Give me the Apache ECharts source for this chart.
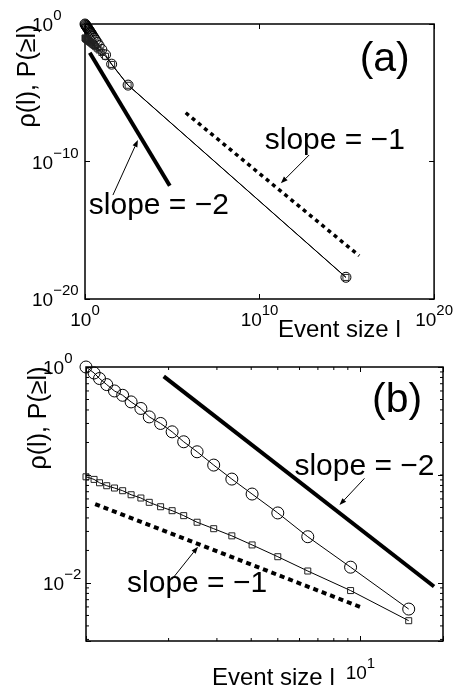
<!DOCTYPE html>
<html><head><meta charset="utf-8">
<script src="https://cdn.jsdelivr.net/npm/echarts@6.0.0/dist/echarts.min.js"></script>
<style>html,body{margin:0;padding:0;background:#fff}#c{width:456px;height:689px}</style>
</head><body><div id="c"></div>
<script>
// ---- data ----
const eventSizes = [1, 1.07, 1.12, 1.19, 1.27, 1.36, 1.46, 1.585, 1.70, 1.87, 2.06, 2.27, 2.54, 2.92, 3.40, 4.03, 5.0, 6.43, 9.21, 15.0, 33.6, 295, 8.9e14];
const rhoValues = [1, 0.880, 0.782, 0.687, 0.600, 0.547, 0.475, 0.413, 0.345, 0.300, 0.251, 0.203, 0.164, 0.1235, 0.0916, 0.0666, 0.0445, 0.0268, 0.0140, 0.00573, 0.0012, 3.6e-5, 3.8e-19];
const cumValues = [0.0962, 0.0910, 0.0847, 0.0795, 0.0757, 0.0715, 0.0656, 0.0612, 0.0558, 0.0508, 0.0467, 0.0420, 0.0365, 0.0318, 0.0273, 0.0225, 0.0175, 0.0129, 0.0085, 0.00447, 0.00115, 3.5e-5, 3.7e-19];
const zoomPointCount = 20; // panel (b) shows the first 20 event sizes

// reference slope lines
const slope2A_x = [1.88, 7.2e4],  slope2A_y = [8.1e-3, 1.7e-12];
const slope1A_x = [5.9e5, 5.1e15], slope1A_y = [3.5e-7, 1.4e-17];
const slope2B_x = [1.92, 18.55],  slope2B_y = [0.82, 0.00927];
const slope1B_x = [1.08, 10.24],  slope1B_y = [0.0538, 0.00585];

// tick labels (exponents of 10)
const tickExpXA = [0, 10, 20];
const tickExpYA = [0, -10, -20];
const tickExpXB = [1];
const tickExpYB = [0, -2];
const minorTicksXB = [2, 3, 4, 5, 6, 7, 8, 9];
const minorTicksYB = [0.9, 0.8, 0.7, 0.6, 0.5, 0.4, 0.3, 0.2, 0.1, 0.09, 0.08, 0.07, 0.06, 0.05, 0.04, 0.03, 0.02, 0.009, 0.008, 0.007, 0.006, 0.005, 0.004, 0.003];

// annotations (data coordinates)
const annotTextA = ['slope = \u22121', 'slope = \u22122', '(a)'];
const annotXA = [2.04e14, 1.70e4, 1.48e17];
const annotYA = [3.09e-9, 5.75e-14, 2.4e-3];
const arrowsA = [[6.9e12, 2.95e-10, 1.66e11, 2.57e-12], [39.8, 3.63e-13, 1072, 3.63e-9]];
const annotTextB = ['slope = \u22122', 'slope = \u22121', '(b)'];
const annotXB = [10.35, 2.54, 13.6];
const annotYB = [0.118, 0.00982, 0.492];
const arrowsB = [[10.35, 0.0931, 8.39, 0.0527], [2.05, 0.01069, 2.56, 0.02168]];

// ---- chart ----
const FONT = '"Liberation Sans", Arial, Helvetica, sans-serif';
const chart = echarts.init(document.getElementById('c'), null, {renderer: 'canvas'});

function pairs(xs, ys) { return xs.map((x, i) => [x, ys[i]]); }
function supFormatter(exps) {
  return function (v) {
    const e = Math.round(Math.log10(v));
    if (Math.abs(Math.log10(v) - e) > 1e-6 || exps.indexOf(e) < 0) return '';
    const s = e < 0 ? '\u2212' + (-e) : String(e);
    return '{b|10}{s|' + s + '}';
  };
}
const rich = {
  b: {fontSize: 19, fontFamily: FONT, color: '#000', padding: [8, 0, 4, 0], verticalAlign: 'bottom'},
  s: {fontSize: 15, fontFamily: FONT, color: '#000', verticalAlign: 'top'}
};
function mainAxis(grid, min, max, exps, extra) {
  return Object.assign({
    type: 'log', logBase: 10, gridIndex: grid, min: min, max: max,
    axisLine: {show: false},
    axisTick: {show: true, inside: true, length: 5, lineStyle: {color: '#000', width: 1}},
    splitLine: {show: false},
    minorTick: {show: false},
    axisLabel: {show: true, formatter: supFormatter(exps), rich: rich, showMinLabel: true, showMaxLabel: true}
  }, extra || {});
}
function mirrorAxis(grid, min, max, pos, extra) {
  return Object.assign({
    type: 'log', logBase: 10, gridIndex: grid, min: min, max: max, position: pos,
    axisLine: {show: false},
    axisTick: {show: true, inside: true, length: 5, lineStyle: {color: '#000', width: 1}},
    splitLine: {show: false},
    axisLabel: {show: false}
  }, extra || {});
}

const markerLine = {color: '#000', width: 1};
const emptyItem = {color: 'rgba(0,0,0,0)', borderColor: '#000', borderWidth: 1};
const sqItem = {color: 'rgba(0,0,0,0)', borderColor: '#222', borderWidth: 1};

function textSeries(xi, yi, xs, ys, texts) {
  return {
    type: 'custom', xAxisIndex: xi, yAxisIndex: yi, silent: true, z: 10,
    data: pairs(xs, ys), encode: {x: 0, y: 1},
    renderItem: function (params, api) {
      const p = api.coord([api.value(0), api.value(1)]);
      const t = texts[params.dataIndex];
      const big = t.charAt(0) === '(';
      return {type: 'text', x: p[0], y: p[1],
        style: {text: t, fill: '#000', fontSize: big ? 41 : 30, fontFamily: FONT, align: 'center', verticalAlign: 'middle'}};
    }
  };
}
function arrowSeries(xi, yi, arrows) {
  return {
    type: 'custom', xAxisIndex: xi, yAxisIndex: yi, silent: true, z: 10,
    data: arrows, encode: {x: [0, 2], y: [1, 3]},
    renderItem: function (params, api) {
      const a = api.coord([api.value(0), api.value(1)]);
      const b = api.coord([api.value(2), api.value(3)]);
      const ang = Math.atan2(b[1] - a[1], b[0] - a[0]);
      const L = 7, W = 2.6;
      const bx = b[0] - L * Math.cos(ang), by = b[1] - L * Math.sin(ang);
      const px = -Math.sin(ang) * W, py = Math.cos(ang) * W;
      return {type: 'group', children: [
        {type: 'line', shape: {x1: a[0], y1: a[1], x2: bx, y2: by}, style: {stroke: '#000', lineWidth: 1}},
        {type: 'polygon', shape: {points: [[b[0], b[1]], [bx + px, by + py], [bx - px, by - py]]}, style: {fill: '#000'}}
      ]};
    }
  };
}
function minorXSeries(xi, yi, vals, yRef) {
  return {
    type: 'custom', xAxisIndex: xi, yAxisIndex: yi, silent: true, z: 6,
    data: vals.map(v => [v, yRef]), encode: {x: 0, y: 1},
    renderItem: function (params, api) {
      const cs = params.coordSys;
      const p = api.coord([api.value(0), api.value(1)]);
      const yb = cs.y + cs.height;
      return {type: 'group', children: [
        {type: 'line', shape: {x1: p[0], y1: yb, x2: p[0], y2: yb - 3}, style: {stroke: '#000', lineWidth: 1}},
        {type: 'line', shape: {x1: p[0], y1: cs.y, x2: p[0], y2: cs.y + 3}, style: {stroke: '#000', lineWidth: 1}}
      ]};
    }
  };
}
function minorYSeries(xi, yi, vals, xRef) {
  return {
    type: 'custom', xAxisIndex: xi, yAxisIndex: yi, silent: true, z: 6,
    data: vals.map(v => [xRef, v]), encode: {x: 0, y: 1},
    renderItem: function (params, api) {
      const cs = params.coordSys;
      const p = api.coord([api.value(0), api.value(1)]);
      const xr = cs.x + cs.width;
      return {type: 'group', children: [
        {type: 'line', shape: {x1: cs.x, y1: p[1], x2: cs.x + 3, y2: p[1]}, style: {stroke: '#000', lineWidth: 1}},
        {type: 'line', shape: {x1: xr, y1: p[1], x2: xr - 3, y2: p[1]}, style: {stroke: '#000', lineWidth: 1}}
      ]};
    }
  };
}

const bSizes = eventSizes.slice(0, zoomPointCount);
const bRho = rhoValues.slice(0, zoomPointCount);
const bCum = cumValues.slice(0, zoomPointCount);

const option = {
  animation: false,
  backgroundColor: '#fff',
  textStyle: {fontFamily: FONT},
  grid: [
    {left: 85, top: 24, width: 350, height: 275, show: true, borderColor: '#000', borderWidth: 1.5, backgroundColor: 'rgba(0,0,0,0)'},
    {left: 86, top: 367, width: 357, height: 274, show: true, borderColor: '#000', borderWidth: 1.5, backgroundColor: 'rgba(0,0,0,0)'}
  ],
  xAxis: [
    mainAxis(0, 1, 1e20, tickExpXA, {position: 'bottom', interval: 10, axisLabel: {formatter: supFormatter(tickExpXA), rich: rich, margin: 4, showMinLabel: true, showMaxLabel: true}}),
    mirrorAxis(0, 1, 1e20, 'top', {interval: 10}),
    mainAxis(1, 1, 20, tickExpXB, {position: 'bottom', axisLabel: {formatter: supFormatter(tickExpXB), rich: rich, margin: 15, showMinLabel: true, showMaxLabel: true}}),
    mirrorAxis(1, 1, 20, 'top')
  ],
  yAxis: [
    mainAxis(0, 1e-20, 1, tickExpYA, {position: 'left', interval: 10, axisLabel: {formatter: supFormatter(tickExpYA), rich: rich, margin: 53, align: 'left', showMinLabel: true, showMaxLabel: true}}),
    mirrorAxis(0, 1e-20, 1, 'right', {interval: 10}),
    mainAxis(1, 0.0029, 1, tickExpYB, {position: 'left', axisLabel: {formatter: supFormatter(tickExpYB), rich: rich, margin: 43, align: 'left', showMinLabel: true, showMaxLabel: true}}),
    mirrorAxis(1, 0.0029, 1, 'right')
  ],
  graphic: [
    {type: 'text', x: 28, y: 76, rotation: Math.PI / 2, style: {text: '\u03c1(l), P(\u2265l)', fill: '#000', fontSize: 25, fontFamily: FONT, align: 'center', verticalAlign: 'middle'}},
    {type: 'text', x: 39.5, y: 418, rotation: Math.PI / 2, style: {text: '\u03c1(l), P(\u2265l)', fill: '#000', fontSize: 25, fontFamily: FONT, align: 'center', verticalAlign: 'middle'}},
    {type: 'text', x: 278, y: 330, style: {text: 'Event size l', fill: '#000', fontSize: 24, fontFamily: FONT, align: 'left', verticalAlign: 'middle'}},
    {type: 'text', x: 212, y: 678, style: {text: 'Event size l', fill: '#000', fontSize: 24, fontFamily: FONT, align: 'left', verticalAlign: 'middle'}}
  ],
  series: [
    // panel (a)
    {type: 'line', xAxisIndex: 0, yAxisIndex: 0, data: pairs(eventSizes, rhoValues), symbol: 'circle', symbolSize: 10, showAllSymbol: true,
     itemStyle: emptyItem, lineStyle: markerLine, z: 3},
    {type: 'line', xAxisIndex: 0, yAxisIndex: 0, data: pairs(eventSizes, cumValues), symbol: 'rect', symbolSize: 6, showAllSymbol: true,
     itemStyle: sqItem, lineStyle: markerLine, z: 3},
    {type: 'line', xAxisIndex: 0, yAxisIndex: 0, data: pairs(slope2A_x, slope2A_y), symbol: 'none', lineStyle: {color: '#000', width: 4, cap: 'butt'}, z: 2},
    {type: 'line', xAxisIndex: 0, yAxisIndex: 0, data: pairs(slope1A_x, slope1A_y), symbol: 'none', lineStyle: {color: '#000', width: 3.5, type: [4, 4], cap: 'butt'}, z: 2},
    arrowSeries(0, 0, arrowsA),
    textSeries(0, 0, annotXA, annotYA, annotTextA),
    // panel (b)
    {type: 'line', xAxisIndex: 2, yAxisIndex: 2, data: pairs(bSizes, bRho), symbol: 'circle', symbolSize: 12, showAllSymbol: true,
     itemStyle: emptyItem, lineStyle: markerLine, z: 3},
    {type: 'line', xAxisIndex: 2, yAxisIndex: 2, data: pairs(bSizes, bCum), symbol: 'rect', symbolSize: 6, showAllSymbol: true,
     itemStyle: sqItem, lineStyle: markerLine, z: 3},
    {type: 'line', xAxisIndex: 2, yAxisIndex: 2, data: pairs(slope2B_x, slope2B_y), symbol: 'none', lineStyle: {color: '#000', width: 4, cap: 'butt'}, z: 2},
    {type: 'line', xAxisIndex: 2, yAxisIndex: 2, data: pairs(slope1B_x, slope1B_y), symbol: 'none', lineStyle: {color: '#000', width: 4, type: [5, 4], cap: 'butt'}, z: 2},
    arrowSeries(2, 2, arrowsB),
    textSeries(2, 2, annotXB, annotYB, annotTextB),
    minorXSeries(2, 2, minorTicksXB, 0.1),
    minorYSeries(2, 2, minorTicksYB, 2)
  ]
};
chart.setOption(option);
</script>
</body></html>
